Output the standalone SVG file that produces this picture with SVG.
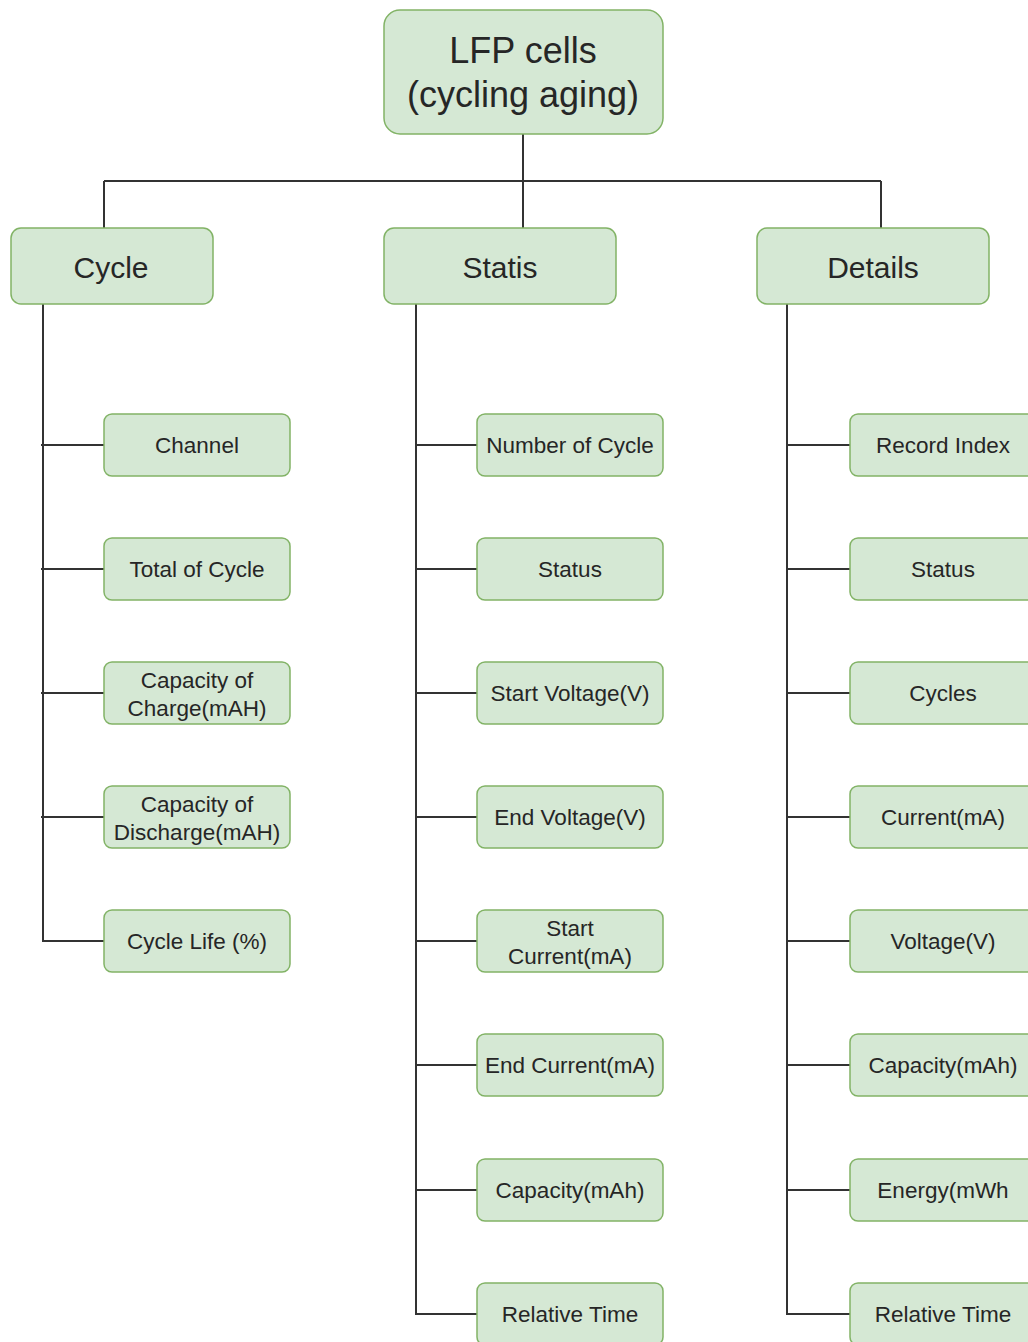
<svg xmlns="http://www.w3.org/2000/svg" width="1028" height="1342" viewBox="0 0 1028 1342">
  <style>
    .box { fill: #d5e8d4; stroke: #82b366; stroke-width: 1.5; }
    .lbl { font-family: "Liberation Sans", Arial, sans-serif; fill: #262626; text-anchor: middle; dominant-baseline: central; }
    .root { font-size: 36px; }
    .l1 { font-size: 30px; }
    .l2 { font-size: 22.5px; }
    .wire { fill: none; stroke: #333; stroke-width: 2; }
  </style>
  <rect width="1028" height="1342" fill="#ffffff"/>

  <!-- connectors -->
  <g id="connectors" class="wire">
    <path d="M523 134 V181 M104 181 H881 M104 181 V228 M523 181 V228 M881 181 V228"/>
    <!-- Cycle branch -->
    <path d="M43 304 V941 H104 M41 445 H104 M41 569 H104 M41 693 H104 M41 817 H104"/>
    <!-- Statis branch -->
    <path d="M416 304 V1314 H477 M416 445 H477 M416 569 H477 M416 693 H477 M416 817 H477 M416 941 H477 M416 1065 H477 M416 1190 H477"/>
    <!-- Details branch -->
    <path d="M787 304 V1314 H850 M787 445 H850 M787 569 H850 M787 693 H850 M787 817 H850 M787 941 H850 M787 1065 H850 M787 1190 H850"/>
  </g>

  <!-- root -->
  <g id="root">
    <rect class="box" x="384" y="10" width="279" height="124" rx="16"/>
    <text class="lbl root" x="523" y="50">LFP cells</text>
    <text class="lbl root" x="523" y="94">(cycling aging)</text>
  </g>

  <!-- level 1 -->
  <g id="cycle">
    <rect class="box" x="11" y="228" width="202" height="76" rx="10"/>
    <text class="lbl l1" x="111" y="267">Cycle</text>
  </g>
  <g id="statis">
    <rect class="box" x="384" y="228" width="232" height="76" rx="10"/>
    <text class="lbl l1" x="500" y="267">Statis</text>
  </g>
  <g id="details">
    <rect class="box" x="757" y="228" width="232" height="76" rx="10"/>
    <text class="lbl l1" x="873" y="267">Details</text>
  </g>

  <!-- Cycle children -->
  <g id="cycle-channel">
    <rect class="box" x="104" y="414" width="186" height="62" rx="8"/>
    <text class="lbl l2" x="197" y="445">Channel</text>
  </g>
  <g id="cycle-total">
    <rect class="box" x="104" y="538" width="186" height="62" rx="8"/>
    <text class="lbl l2" x="197" y="569">Total of Cycle</text>
  </g>
  <g id="cycle-charge">
    <rect class="box" x="104" y="662" width="186" height="62" rx="8"/>
    <text class="lbl l2" x="197" y="680">Capacity of</text>
    <text class="lbl l2" x="197" y="708">Charge(mAH)</text>
  </g>
  <g id="cycle-discharge">
    <rect class="box" x="104" y="786" width="186" height="62" rx="8"/>
    <text class="lbl l2" x="197" y="804">Capacity of</text>
    <text class="lbl l2" x="197" y="832">Discharge(mAH)</text>
  </g>
  <g id="cycle-life">
    <rect class="box" x="104" y="910" width="186" height="62" rx="8"/>
    <text class="lbl l2" x="197" y="941">Cycle Life (%)</text>
  </g>

  <!-- Statis children -->
  <g id="statis-number">
    <rect class="box" x="477" y="414" width="186" height="62" rx="8"/>
    <text class="lbl l2" x="570" y="445">Number of Cycle</text>
  </g>
  <g id="statis-status">
    <rect class="box" x="477" y="538" width="186" height="62" rx="8"/>
    <text class="lbl l2" x="570" y="569">Status</text>
  </g>
  <g id="statis-start-voltage">
    <rect class="box" x="477" y="662" width="186" height="62" rx="8"/>
    <text class="lbl l2" x="570" y="693">Start Voltage(V)</text>
  </g>
  <g id="statis-end-voltage">
    <rect class="box" x="477" y="786" width="186" height="62" rx="8"/>
    <text class="lbl l2" x="570" y="817">End Voltage(V)</text>
  </g>
  <g id="statis-start-current">
    <rect class="box" x="477" y="910" width="186" height="62" rx="8"/>
    <text class="lbl l2" x="570" y="928">Start</text>
    <text class="lbl l2" x="570" y="956">Current(mA)</text>
  </g>
  <g id="statis-end-current">
    <rect class="box" x="477" y="1034" width="186" height="62" rx="8"/>
    <text class="lbl l2" x="570" y="1065">End Current(mA)</text>
  </g>
  <g id="statis-capacity">
    <rect class="box" x="477" y="1159" width="186" height="62" rx="8"/>
    <text class="lbl l2" x="570" y="1190">Capacity(mAh)</text>
  </g>
  <g id="statis-time">
    <rect class="box" x="477" y="1283" width="186" height="62" rx="8"/>
    <text class="lbl l2" x="570" y="1314">Relative Time</text>
  </g>

  <!-- Details children -->
  <g id="details-index">
    <rect class="box" x="850" y="414" width="186" height="62" rx="8"/>
    <text class="lbl l2" x="943" y="445">Record Index</text>
  </g>
  <g id="details-status">
    <rect class="box" x="850" y="538" width="186" height="62" rx="8"/>
    <text class="lbl l2" x="943" y="569">Status</text>
  </g>
  <g id="details-cycles">
    <rect class="box" x="850" y="662" width="186" height="62" rx="8"/>
    <text class="lbl l2" x="943" y="693">Cycles</text>
  </g>
  <g id="details-current">
    <rect class="box" x="850" y="786" width="186" height="62" rx="8"/>
    <text class="lbl l2" x="943" y="817">Current(mA)</text>
  </g>
  <g id="details-voltage">
    <rect class="box" x="850" y="910" width="186" height="62" rx="8"/>
    <text class="lbl l2" x="943" y="941">Voltage(V)</text>
  </g>
  <g id="details-capacity">
    <rect class="box" x="850" y="1034" width="186" height="62" rx="8"/>
    <text class="lbl l2" x="943" y="1065">Capacity(mAh)</text>
  </g>
  <g id="details-energy">
    <rect class="box" x="850" y="1159" width="186" height="62" rx="8"/>
    <text class="lbl l2" x="943" y="1190">Energy(mWh</text>
  </g>
  <g id="details-time">
    <rect class="box" x="850" y="1283" width="186" height="62" rx="8"/>
    <text class="lbl l2" x="943" y="1314">Relative Time</text>
  </g>
</svg>
